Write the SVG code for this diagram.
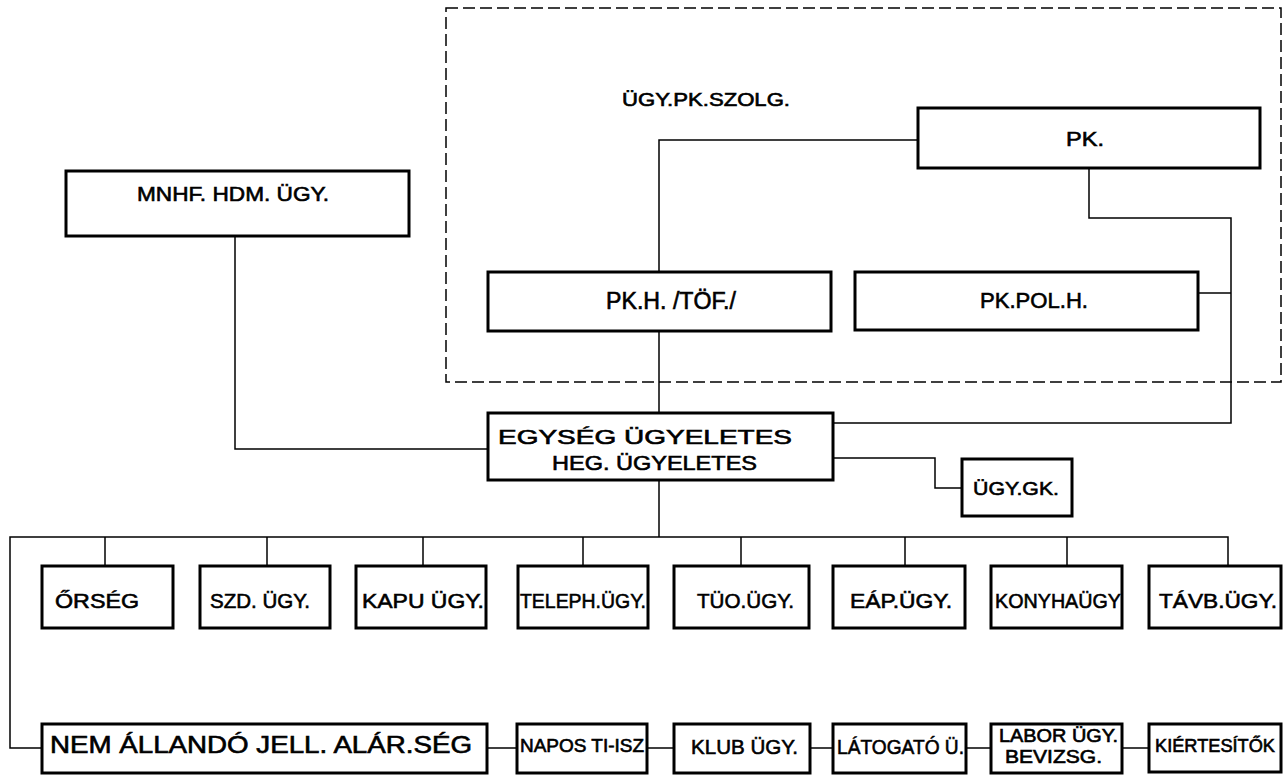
<svg xmlns="http://www.w3.org/2000/svg" width="1284" height="775" viewBox="0 0 1284 775">
<style>
.box{fill:#fff;stroke:#000;stroke-width:3}
.t{font-family:"Liberation Sans",Arial,sans-serif;font-size:21px;font-weight:normal;fill:#000;stroke:#000;stroke-width:0.6;dominant-baseline:central}
.c{fill:none;stroke:#000;stroke-width:1.5}
.dash{fill:none;stroke:#000;stroke-width:1.5;stroke-dasharray:12 5}
</style>
<rect width="1284" height="775" fill="#fff"/>
<rect class="dash" x="446" y="8" width="835" height="374"/>
<g id="connectors">
<polyline class="c" points="918,140 659,140 659,272"/>
<polyline class="c" points="1089,168 1089,218 1231,218 1231,423 833,423"/>
<line class="c" x1="1198" y1="293" x2="1231" y2="293"/>
<line class="c" x1="659" y1="331" x2="659" y2="413"/>
<polyline class="c" points="235,236 235,449 488,449"/>
<polyline class="c" points="833,458 935,458 935,488 962,488"/>
<line class="c" x1="659" y1="480" x2="659" y2="537"/>
<polyline class="c" points="1228,566 1228,537 10,537 10,748 42,748"/>
<line class="c" x1="105" y1="537" x2="105" y2="566"/>
<line class="c" x1="267" y1="537" x2="267" y2="566"/>
<line class="c" x1="423" y1="537" x2="423" y2="566"/>
<line class="c" x1="583" y1="537" x2="583" y2="566"/>
<line class="c" x1="741" y1="537" x2="741" y2="566"/>
<line class="c" x1="905" y1="537" x2="905" y2="566"/>
<line class="c" x1="1067" y1="537" x2="1067" y2="566"/>
<line class="c" x1="487" y1="748" x2="517" y2="748"/>
<line class="c" x1="647" y1="748" x2="674" y2="748"/>
<line class="c" x1="810" y1="748" x2="833" y2="748"/>
<line class="c" x1="966" y1="748" x2="991" y2="748"/>
<line class="c" x1="1122" y1="748" x2="1149" y2="748"/>
</g>
<g id="label-ugy-pk-szolg"><text class="t" x="622" y="100" textLength="168" lengthAdjust="spacingAndGlyphs" style="font-size:18px">ÜGY.PK.SZOLG.</text></g>
<g id="pk"><rect class="box" x="918" y="108" width="342" height="60"/><text class="t" x="1066" y="139" textLength="38" lengthAdjust="spacingAndGlyphs" style="font-size:20px">PK.</text></g>
<g id="mnhf"><rect class="box" x="66" y="171" width="343" height="65"/><text class="t" x="137" y="194" textLength="192" lengthAdjust="spacingAndGlyphs" style="font-size:20px">MNHF.  HDM. ÜGY.</text></g>
<g id="pkh"><rect class="box" x="488" y="272" width="343" height="59"/><text class="t" x="606" y="301" textLength="130" lengthAdjust="spacingAndGlyphs" style="font-size:23px">PK.H. /TÖF./</text></g>
<g id="pkpolh"><rect class="box" x="855" y="272" width="343" height="58"/><text class="t" x="980" y="300" textLength="108" lengthAdjust="spacingAndGlyphs" style="font-size:22px">PK.POL.H.</text></g>
<g id="egyseg"><rect class="box" x="488" y="413" width="345" height="67"/><text class="t" x="498" y="437" textLength="294" lengthAdjust="spacingAndGlyphs" style="font-size:20px">EGYSÉG   ÜGYELETES</text><text class="t" x="552" y="463" textLength="205" lengthAdjust="spacingAndGlyphs" style="font-size:20px">HEG. ÜGYELETES</text></g>
<g id="ugygk"><rect class="box" x="962" y="459" width="110" height="57"/><text class="t" x="973" y="488" textLength="86" lengthAdjust="spacingAndGlyphs" style="font-size:19px">ÜGY.GK.</text></g>
<g id="orseg"><rect class="box" x="42" y="566" width="131" height="62"/><text class="t" x="55" y="600" textLength="84" lengthAdjust="spacingAndGlyphs">ŐRSÉG</text></g>
<g id="szd"><rect class="box" x="200" y="566" width="130" height="62"/><text class="t" x="210" y="600" textLength="100" lengthAdjust="spacingAndGlyphs">SZD. ÜGY.</text></g>
<g id="kapu"><rect class="box" x="356" y="566" width="130" height="62"/><text class="t" x="362" y="600" textLength="122" lengthAdjust="spacingAndGlyphs">KAPU ÜGY.</text></g>
<g id="teleph"><rect class="box" x="518" y="566" width="130" height="62"/><text class="t" x="520" y="600" textLength="126" lengthAdjust="spacingAndGlyphs">TELEPH.ÜGY.</text></g>
<g id="tuo"><rect class="box" x="674" y="566" width="135" height="62"/><text class="t" x="697" y="600" textLength="97" lengthAdjust="spacingAndGlyphs">TÜO.ÜGY.</text></g>
<g id="eap"><rect class="box" x="833" y="566" width="132" height="62"/><text class="t" x="850" y="600" textLength="102" lengthAdjust="spacingAndGlyphs">EÁP.ÜGY.</text></g>
<g id="konyha"><rect class="box" x="991" y="566" width="131" height="62"/><text class="t" x="995" y="600" textLength="126" lengthAdjust="spacingAndGlyphs">KONYHAÜGY</text></g>
<g id="tavb"><rect class="box" x="1149" y="566" width="132" height="62"/><text class="t" x="1159" y="600" textLength="118" lengthAdjust="spacingAndGlyphs">TÁVB.ÜGY.</text></g>
<g id="nem"><rect class="box" x="42" y="724" width="445" height="49"/><text class="t" x="50" y="745" textLength="422" lengthAdjust="spacingAndGlyphs" style="font-size:23px">NEM ÁLLANDÓ JELL. ALÁR.SÉG</text></g>
<g id="napos"><rect class="box" x="517" y="724" width="130" height="49"/><text class="t" x="520" y="746" textLength="124" lengthAdjust="spacingAndGlyphs" style="font-size:18px">NAPOS TI-ISZ</text></g>
<g id="klub"><rect class="box" x="674" y="724" width="136" height="49"/><text class="t" x="691" y="746" textLength="107" lengthAdjust="spacingAndGlyphs">KLUB ÜGY.</text></g>
<g id="latogato"><rect class="box" x="833" y="724" width="133" height="49"/><text class="t" x="837" y="746" textLength="127" lengthAdjust="spacingAndGlyphs">LÁTOGATÓ Ü.</text></g>
<g id="labor"><rect class="box" x="991" y="724" width="131" height="49"/><text class="t" x="999" y="736" textLength="119" lengthAdjust="spacingAndGlyphs" style="font-size:18px">LABOR ÜGY.</text><text class="t" x="1005" y="757" textLength="97" lengthAdjust="spacingAndGlyphs" style="font-size:18px">BEVIZSG.</text></g>
<g id="kiertesitok"><rect class="box" x="1149" y="724" width="132" height="48"/><text class="t" x="1155" y="746" textLength="120" lengthAdjust="spacingAndGlyphs" style="font-size:18px">KIÉRTESÍTŐK</text></g>
</svg>
